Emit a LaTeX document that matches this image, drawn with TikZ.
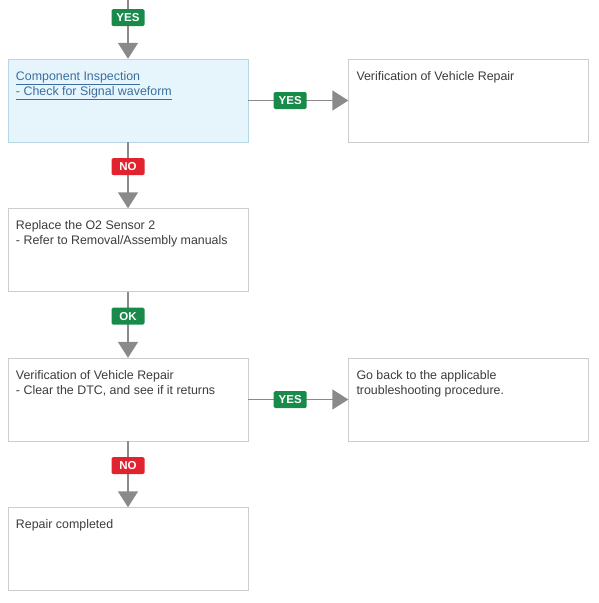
\documentclass[tikz,border=0pt]{standalone}
\usepackage{fontspec}
\setmainfont{Liberation Sans}
\usetikzlibrary{positioning,calc,arrows.meta}

\definecolor{yesgreen}{HTML}{188A4A}
\definecolor{nored}{HTML}{E1222F}
\definecolor{linkblue}{HTML}{3B6E9E}
\definecolor{textgrey}{HTML}{3C3C3C}
\definecolor{paleblue}{HTML}{E6F5FB}
\definecolor{paleedge}{HTML}{B7D6E6}
\definecolor{boxedge}{HTML}{CDCDCD}
\definecolor{flowgrey}{HTML}{8A8A8A}

\newcommand{\boxtext}[1]{\parbox[c][83pt][t]{224pt}{\vspace{12.5pt}#1}}

\tikzset{
  stepbox/.style={draw=boxedge, fill=white, rectangle, inner xsep=8pt, inner ysep=0pt,
    minimum width=240pt, minimum height=83pt, text=textgrey,
    font=\fontsize{12.4}{15}\selectfont},
  inspectbox/.style={stepbox, draw=paleedge, fill=paleblue, text=linkblue},
  badge/.style={rounded corners=1.5pt, inner sep=0pt, minimum width=33pt, minimum height=17pt,
    text=white, font=\fontsize{11.5}{11.5}\selectfont\bfseries},
  yes/.style={badge, fill=yesgreen},
  no/.style={badge, fill=nored},
  flow/.style={draw=flowgrey, line width=1.5pt, -{Triangle[width=20pt,length=16pt]}},
}

\begin{document}
\begin{tikzpicture}[x=1pt, y=-1pt]
\useasboundingbox (0,0) rectangle (599,603);

\coordinate (top) at (128,0);

% LEFT COLUMN

\node[inspectbox] (inspect) at (128,100.5)
  {\boxtext{\underline{Component Inspection}\\\underline{- Check for Signal waveform}}};
\node[stepbox] (replace) at (128,250)
  {\boxtext{Replace the O2 Sensor 2\\- Refer to Removal/Assembly manuals}};
\node[stepbox] (verify) at (128,399.5)
  {\boxtext{Verification of Vehicle Repair\\- Clear the DTC, and see if it returns}};
\node[stepbox] (done) at (128,549)
  {\boxtext{Repair completed}};

% RIGHT COLUMN

\node[stepbox] (verifyr) at (468.5,100.5)
  {\boxtext{Verification of Vehicle Repair}};
\node[stepbox] (goback) at (468.5,399.5)
  {\boxtext{Go back to the applicable\\troubleshooting procedure.}};

% CONNECTORS

\draw[flow] (top) -- node[yes, pos=0.3] {YES} (inspect.north);
\draw[flow] (inspect.east) -- node[yes, pos=0.42] {YES} (verifyr.west);
\draw[flow] (inspect.south) -- node[no, pos=0.37] {NO} (replace.north);
\draw[flow] (replace.south) -- node[yes, pos=0.37] {OK} (verify.north);
\draw[flow] (verify.east) -- node[yes, pos=0.42] {YES} (goback.west);
\draw[flow] (verify.south) -- node[no, pos=0.37] {NO} (done.north);

\end{tikzpicture}
\end{document}
